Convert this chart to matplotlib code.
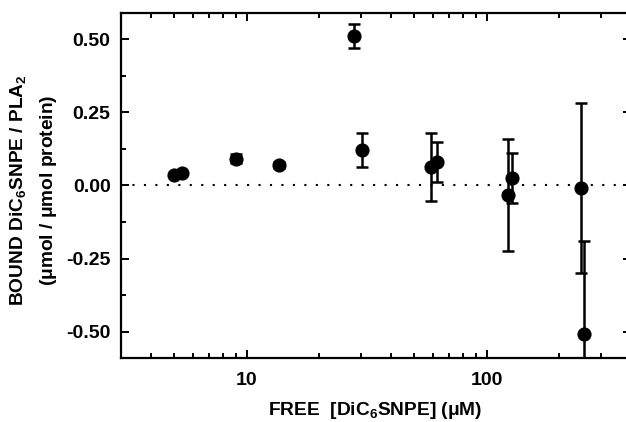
import numpy as np
import matplotlib
matplotlib.use("Agg")
import matplotlib.pyplot as plt
from matplotlib.ticker import MultipleLocator, FixedLocator, NullFormatter

plt.rcParams.update({
    "font.family": "Liberation Sans",
    "font.weight": "bold",
    "mathtext.fontset": "custom",
    "mathtext.rm": "Liberation Sans:bold",
    "mathtext.bf": "Liberation Sans:bold",
    "mathtext.it": "Liberation Sans:bold",
    "mathtext.default": "bf",
})

# ---- data ----
free_conc = [5.0, 5.36, 9.06, 13.6, 27.9, 30.4, 58.9, 62.1, 122.7, 128.0, 248.0, 254.0]
bound = [0.037, 0.041, 0.091, 0.071, 0.510, 0.120, 0.063, 0.080, -0.032, 0.026, -0.008, -0.506]
bound_err = [0.0, 0.0, 0.015, 0.010, 0.040, 0.058, 0.117, 0.068, 0.192, 0.086, 0.290, 0.318]

y_ticks = [-0.50, -0.25, 0.00, 0.25, 0.50]
y_ticklabels = ["-0.50", "-0.25", "0.00", "0.25", "0.50"]
x_ticks = [10, 100]
x_ticklabels = ["10", "100"]

fig = plt.figure(figsize=(6.26, 4.22), dpi=100)
ax = fig.add_axes([0.1933, 0.1517, 0.815, 0.8175])

ax.set_xscale("log")
ax.set_xlim(3, 400)
ax.set_ylim(-0.589, 0.589)

# zero reference line
ax.axhline(0, color="black", lw=1.5, ls=(0, (1, 4.5)), zorder=1)

ax.errorbar(free_conc, bound, yerr=bound_err, fmt="o", color="black",
            ms=9.2, ecolor="black", elinewidth=1.8, capsize=4.5, capthick=1.8,
            zorder=3, clip_on=True)

# ---- axes cosmetics ----
ax.set_yticks(y_ticks)
ax.set_yticklabels(y_ticklabels)
ax.yaxis.set_minor_locator(MultipleLocator(0.125))
ax.set_xticks(x_ticks)
ax.set_xticklabels(x_ticklabels)
minors = [m * d for d in (1, 10, 100) for m in range(2, 10)]
ax.xaxis.set_minor_locator(FixedLocator(minors))
ax.xaxis.set_minor_formatter(NullFormatter())

ax.tick_params(which="both", direction="in", top=True, right=True,
               width=1.4, labelsize=14)
ax.tick_params(which="major", length=6)
ax.tick_params(which="minor", length=3.5)
ax.tick_params(axis="y", pad=7.5)
ax.tick_params(axis="x", pad=10)
for lab in ax.get_xticklabels() + ax.get_yticklabels():
    lab.set_fontweight("bold")
for s in ax.spines.values():
    s.set_linewidth(1.6)

fig.text(0.599, 0.028, r"FREE  [DiC$_6$SNPE] ($\mu$M)", fontsize=13.8,
         fontweight="bold", ha="center", va="center")
fig.text(0.029, 0.55, r"BOUND DiC$_6$SNPE / PLA$_2$", fontsize=13.8,
         fontweight="bold", ha="center", va="center", rotation=90)
fig.text(0.077, 0.55, r"($\mu$mol / $\mu$mol protein)", fontsize=13.8,
         fontweight="bold", ha="center", va="center", rotation=90)

fig.savefig("out.png", dpi=100, facecolor="white")
